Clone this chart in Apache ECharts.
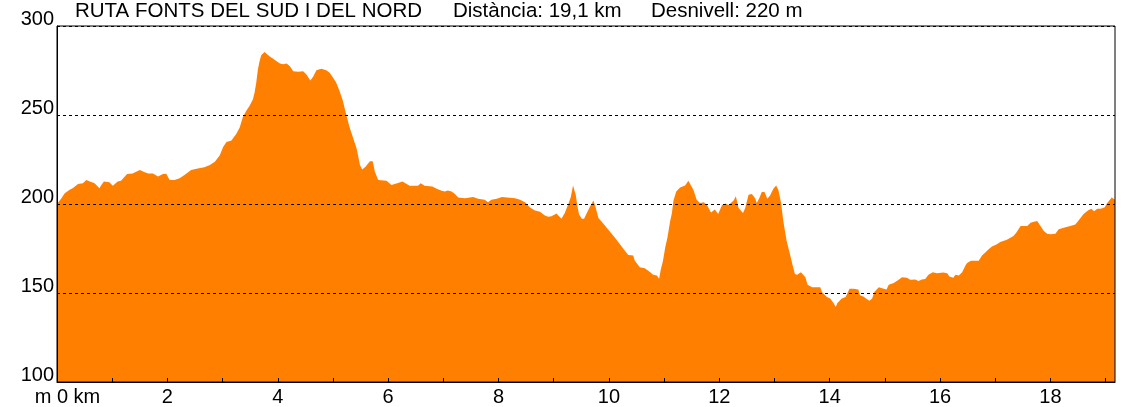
<!DOCTYPE html>
<html>
<head>
<meta charset="utf-8">
<script src="https://cdn.jsdelivr.net/npm/echarts@6/dist/echarts.min.js"></script>
<style>
html,body{margin:0;padding:0;background:#fff;}
#chart{width:1142px;height:407px;}
</style>
</head>
<body>
<div id="chart"></div>
<script>
const titleMain = 'RUTA FONTS DEL SUD I DEL NORD';
const titleDist = 'Distància: 19,1 km';
const titleGain = 'Desnivell: 220 m';

const distKm = [0.00,0.01,0.08,0.14,0.23,0.29,0.38,0.47,0.53,0.62,0.68,0.77,0.80,0.85,0.95,1.01,1.10,1.16,1.27,1.37,1.50,1.59,1.65,1.74,1.83,1.92,1.98,2.04,2.13,2.22,2.31,2.43,2.55,2.67,2.77,2.86,2.95,3.01,3.07,3.16,3.19,3.25,3.28,3.31,3.34,3.37,3.43,3.49,3.55,3.58,3.61,3.64,3.67,3.70,3.76,3.79,3.85,3.91,3.98,4.04,4.10,4.16,4.22,4.28,4.37,4.46,4.52,4.59,4.64,4.70,4.79,4.88,4.94,5.00,5.06,5.12,5.18,5.23,5.30,5.36,5.43,5.49,5.53,5.59,5.67,5.72,5.76,5.82,5.97,6.06,6.15,6.26,6.39,6.54,6.59,6.66,6.80,6.88,6.97,7.03,7.08,7.15,7.21,7.27,7.39,7.54,7.63,7.75,7.81,7.87,7.97,8.06,8.30,8.39,8.48,8.57,8.66,8.75,8.84,8.90,8.96,9.05,9.14,9.20,9.26,9.31,9.35,9.40,9.43,9.46,9.51,9.55,9.60,9.66,9.72,9.76,9.81,9.87,9.96,10.02,10.11,10.20,10.29,10.35,10.44,10.47,10.56,10.65,10.75,10.80,10.87,10.91,10.94,10.98,11.02,11.06,11.11,11.14,11.17,11.22,11.29,11.38,11.44,11.47,11.53,11.59,11.65,11.72,11.78,11.85,11.92,11.98,12.05,12.11,12.17,12.26,12.30,12.35,12.43,12.47,12.53,12.59,12.65,12.68,12.73,12.77,12.82,12.87,12.92,12.98,13.03,13.07,13.12,13.16,13.22,13.28,13.33,13.37,13.41,13.48,13.56,13.60,13.68,13.83,13.86,13.95,14.01,14.07,14.11,14.14,14.22,14.25,14.29,14.36,14.43,14.52,14.55,14.61,14.66,14.72,14.77,14.81,14.89,14.98,15.03,15.07,15.16,15.25,15.31,15.40,15.46,15.55,15.61,15.67,15.73,15.79,15.87,15.94,16.06,16.13,16.17,16.24,16.28,16.34,16.40,16.46,16.49,16.56,16.70,16.76,16.82,16.88,16.94,17.03,17.09,17.21,17.33,17.38,17.46,17.58,17.64,17.70,17.76,17.82,17.88,17.94,18.00,18.09,18.15,18.24,18.36,18.45,18.51,18.60,18.68,18.74,18.79,18.85,18.91,18.98,19.03,19.11,19.17];

const elevM = [200,200.6,203.3,206,208,209,211.3,211.7,213.5,212.4,211.7,208.9,210.5,212.6,212.2,210.2,212.6,213.1,216.9,217.2,219.1,217.8,217.2,217.2,215.4,216.9,217,213.5,213.5,214.4,216.3,219.1,220,220.7,221.9,223.7,227.4,232,234.8,235.7,234.8,239.4,240.4,243,246,249,252.4,255.2,258.9,262.6,268.1,275.6,280.2,283.5,285.4,285.2,283,281.7,280.2,278.9,278.5,278.9,277.4,274.6,274.3,274.6,272.8,269.4,271.5,275.2,276,275.1,273.7,271,268.1,263.5,258,251.5,243.2,237.6,231.1,221.9,219.4,220.9,224,224,218.1,213.5,213.1,210.7,211.5,212.6,210.2,210.2,211.7,210.2,209.8,208.5,207.4,207,207.6,207,205.6,203.7,203.3,203.9,203,202.4,201,202.4,203,203.9,203.3,202.4,201,198.1,196.3,195.6,193.5,192.8,193.1,194.6,191.7,195,199.6,203.9,210.4,205,198.7,194.1,191.7,191.7,195,198.7,202,198.1,192.2,190,186.7,184.4,181.1,177.4,173.7,171.3,171,168.1,164.4,163.9,161.7,160.2,159.8,158,163.2,168.1,175.6,181.1,190.4,194.6,201.9,207,209.3,210.4,213,212.2,208,202.4,200.6,201,199.3,195.2,196.9,194.4,199.4,200.3,199.4,201.9,204.3,197.8,195,197.8,205.2,205.6,203.3,200.6,203.7,206.7,206.7,203,204.8,208.5,210.4,208,200.6,190.4,179.3,171.9,165.4,160.7,160.2,161.7,158.9,154.6,153.3,153.3,150.6,147.8,146.9,144.4,142.2,144.4,146.9,147.8,147.8,152.4,152.4,151.9,148.7,148.1,146.9,145.6,146.9,150.6,153.3,152.4,151.9,154.6,155.6,157.4,158.9,158.5,157.4,157.6,156.7,157.6,157.8,160.2,161.7,161.1,161.5,161.1,159.3,158.5,160.2,159.8,161.7,165.4,166.9,168.1,168.1,171,172.8,174.6,176.1,177.4,178.6,179.9,182,183.9,187.6,187.6,189.4,190,190.4,187.6,184.8,183.3,183,183.3,185.8,186.7,187.6,188.5,190.8,194.4,196.3,197.4,195.9,197.4,197.4,198.1,200.6,203.7,202.4];

const xTickLabels = ['m 0 km','2','4','6','8','10','12','14','16','18'];
const yTickLabels = ['100','150','200','250','300'];

const FONT = '"Liberation Sans", Arial, sans-serif';
const chart = echarts.init(document.getElementById('chart'));
const seriesData = distKm.map((d, i) => [d, elevM[i]]);

const titleStyle = { fontFamily: FONT, fontSize: 20.5, fontWeight: 'normal', color: '#000' };

chart.setOption({
  animation: false,
  backgroundColor: '#ffffff',
  title: [
    { text: titleMain, left: 75, top: 1, padding: 0, textStyle: titleStyle },
    { text: titleDist, left: 453, top: 1, padding: 0, textStyle: titleStyle },
    { text: titleGain, left: 651, top: 1, padding: 0, textStyle: titleStyle }
  ],
  grid: {
    left: 57, right: 27, top: 26, bottom: 21,
    show: true, z: 10, borderColor: '#000', borderWidth: 1, backgroundColor: 'transparent'
  },
  xAxis: {
    type: 'value', min: 0, max: 19.17, interval: 1, z: 5,
    axisLine: { show: true, lineStyle: { color: '#000', width: 1 } },
    axisTick: { show: true, inside: true, length: 4, lineStyle: { color: '#000' } },
    splitLine: { show: false },
    axisLabel: {
      show: true, margin: 5, color: '#000', fontFamily: FONT, fontSize: 20,
      showMaxLabel: false, showMinLabel: true,
      formatter: function (v) {
        if (v === 0) return '{z|' + xTickLabels[0] + '}';
        if (Math.abs(v - Math.round(v)) < 1e-6 && Math.round(v) % 2 === 0) {
          return xTickLabels[Math.round(v) / 2] || '';
        }
        return '';
      },
      rich: { z: { fontFamily: FONT, fontSize: 20, color: '#000', padding: [0, 0, 0, 21] } }
    }
  },
  yAxis: {
    type: 'value', min: 100, max: 300, interval: 50, z: 5,
    axisLine: { show: true, lineStyle: { color: '#000', width: 1 } },
    axisTick: { show: false },
    splitLine: { show: true, lineStyle: { color: '#000', width: 1, type: [3, 3] } },
    axisLabel: {
      show: true, margin: 3, color: '#000', fontFamily: FONT, fontSize: 20,
      verticalAlign: 'bottom', lineHeight: 14,
      formatter: function (v) { return yTickLabels[Math.round((v - 100) / 50)] || ''; }
    }
  },
  series: [{
    type: 'line',
    data: seriesData,
    showSymbol: false,
    symbol: 'none',
    z: 2,
    lineStyle: { width: 0, color: '#FF8000' },
    itemStyle: { color: '#FF8000' },
    areaStyle: { color: '#FF8000', opacity: 1, origin: 'start' }
  }]
});
</script>
</body>
</html>
